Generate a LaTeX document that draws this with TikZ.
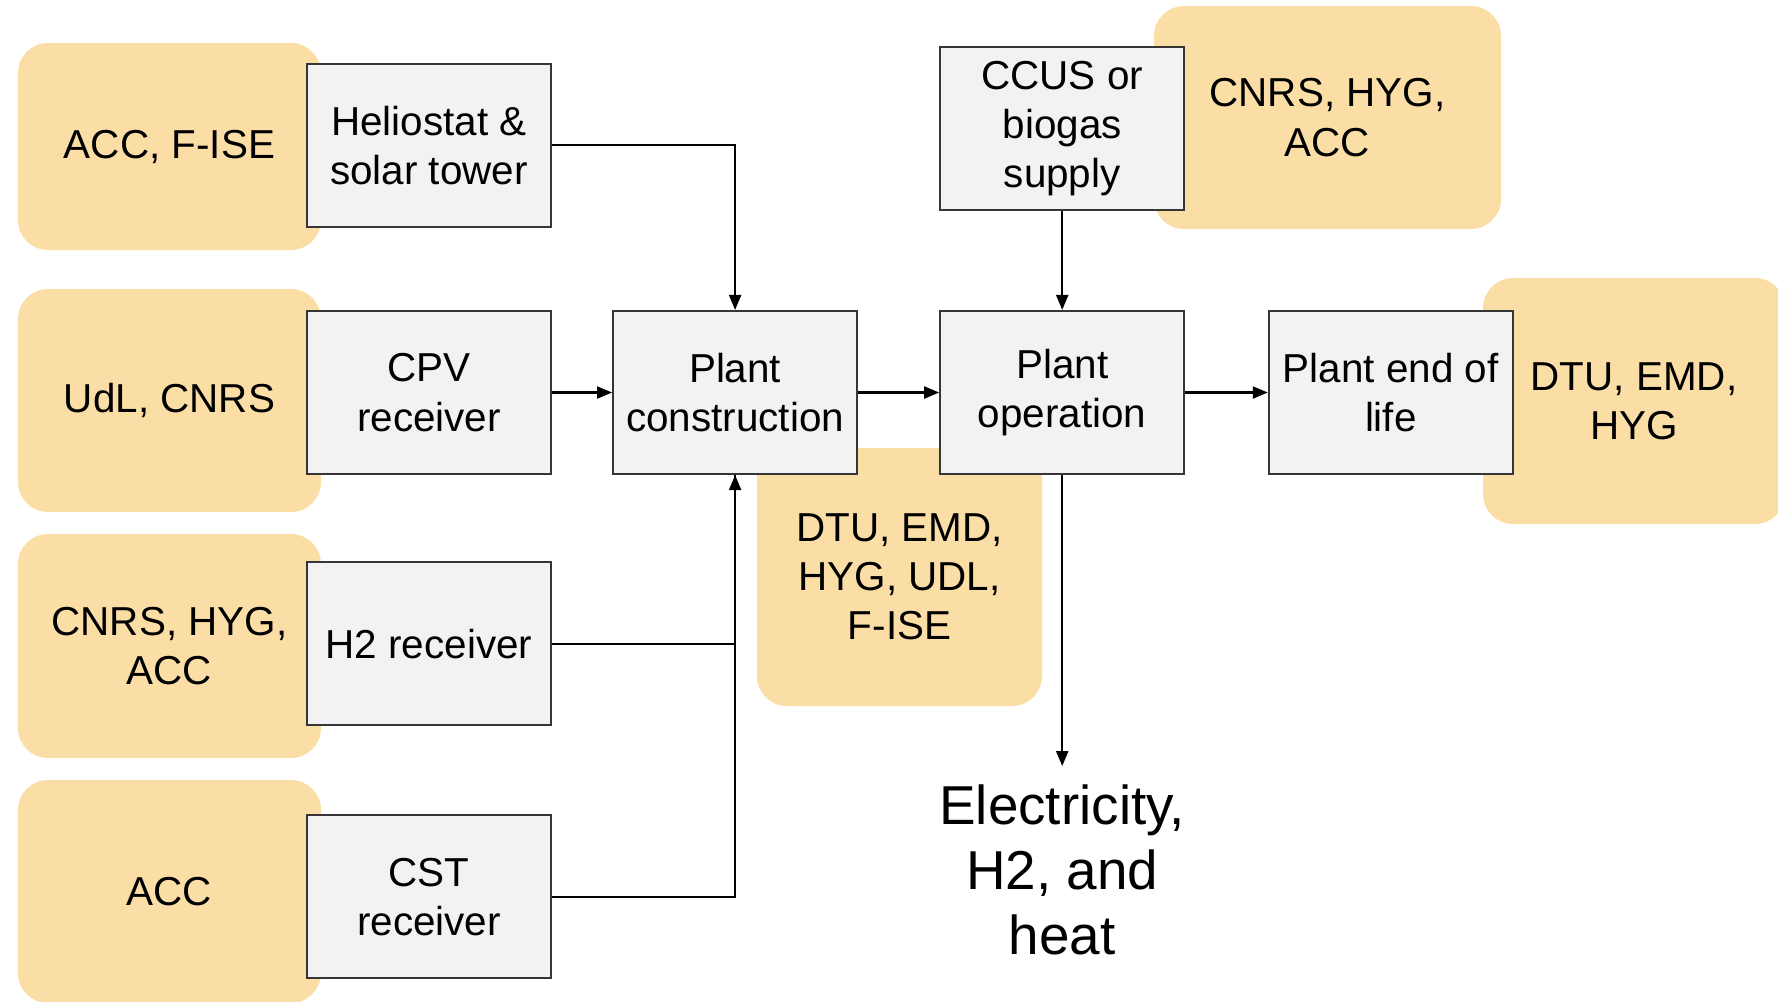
\documentclass[tikz,border=0pt]{standalone}
\usepackage{fontspec}
\setmainfont{Liberation Sans}
\usepackage{xcolor}
\usetikzlibrary{arrows.meta, positioning}

\definecolor{partnerfill}{RGB}{250,222,166}
\definecolor{stepfill}{RGB}{242,242,242}
\definecolor{stepline}{RGB}{54,54,54}

\begin{document}
\begin{tikzpicture}[
    x=1mm, y=1mm,
    font=\fontsize{11.5}{14}\selectfont,
    box/.style={
        draw=stepline,
        fill=stepfill,
        line width=0.6pt,
        align=center,
        inner sep=1mm,
        minimum width=24.4mm,
        minimum height=16.3mm
    },
    partner/.style={
        fill=partnerfill,
        rounded corners=3mm,
        align=center,
        inner sep=0pt
    },
    arrow/.style={
        -{Triangle[length=1.5mm, width=1.2mm]},
        line width=0.6pt
    },
    link/.style={
        line width=0.6pt
    }
]

\useasboundingbox (0,0) rectangle (177.8,-100.1);

\node[partner, minimum width=30.3mm, minimum height=20.7mm] (helioteam) at (16.95,-14.65) {ACC, F-ISE};
\node[partner, minimum width=30.3mm, minimum height=22.3mm] (cpvteam) at (16.95,-40.05) {UdL, CNRS};
\node[partner, minimum width=30.3mm, minimum height=22.4mm] (htwoteam) at (16.95,-64.6) {CNRS, HYG,\\ACC};
\node[partner, minimum width=30.3mm, minimum height=22.3mm] (cstteam) at (16.95,-89.15) {ACC};
\node[partner, minimum width=34.7mm, minimum height=22.3mm] (ccusteam) at (132.75,-11.75) {CNRS, HYG,\\ACC};
\node[partner, minimum width=30.2mm, minimum height=24.6mm] (eolteam) at (163.4,-40.1) {DTU, EMD,\\HYG};
\node[partner, minimum width=28.5mm, minimum height=25.8mm] (plantteam) at (89.95,-57.7) {DTU, EMD,\\HYG, UDL,\\F-ISE};

\node[box] (cpv) at (42.9,-39.25) {CPV\\receiver};

\node[box, above=8.2mm of cpv] (helio)
{Heliostat \&\\solar tower};

\node[box, below=8.6mm of cpv] (htwo)
{H2 receiver};

\node[box, below=8.8mm of htwo] (cst)
{CST\\receiver};

\node[box, right=6mm of cpv] (constr)
{Plant\\construction};

\node[box, right=8.1mm of constr] (oper)
{Plant\\operation};

\node[box, right=8.25mm of oper] (eol)
{Plant end of\\life};

\node[box, above=9.9mm of oper] (ccus)
{CCUS or\\biogas\\supply};

\node[align=center, inner sep=1.75mm, font=\fontsize{15.6}{18.6}\selectfont,
    below=29.1mm of oper] (output)
{Electricity,\\H2, and\\heat};

\draw[arrow] (helio.east) -| (constr.north);
\draw[arrow] (cpv) -- (constr);
\draw[link] (htwo.east) -| (constr.south);
\draw[arrow] (cst.east) -| (constr.south);
\draw[arrow] (constr) -- (oper);
\draw[arrow] (ccus) -- (oper);
\draw[arrow] (oper) -- (eol);
\draw[arrow] (oper) -- (output);

\end{tikzpicture}
\end{document}
